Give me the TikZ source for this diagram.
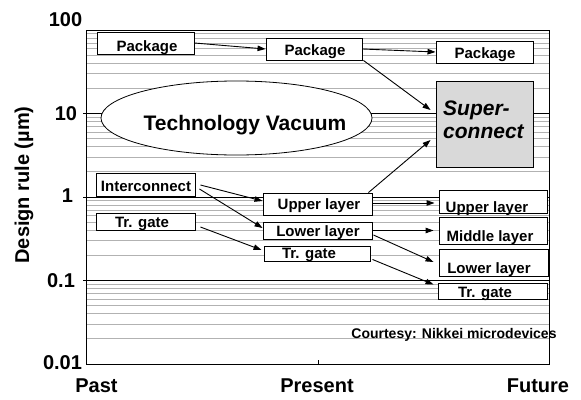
\documentclass[tikz,border=0pt]{standalone}
\usepackage{fontspec}
\setmainfont{Liberation Sans}
\usetikzlibrary{arrows.meta,calc,shapes.geometric}
\definecolor{scfill}{HTML}{D9D9D9}
\begin{document}
\begin{tikzpicture}[x=1pt,y=-1pt,
  box/.style={draw=black, line width=0.9pt, fill=white, inner sep=0pt, rectangle},
  txt/.style={font=\fontsize{15}{18}\selectfont\bfseries, inner sep=0pt, anchor=base},
  ax/.style={font=\fontsize{20}{24}\selectfont\bfseries, inner sep=0pt, anchor=base},
  conn/.style={line width=0.9pt, -{Triangle[length=8pt,width=5.5pt]}},
  minor/.style={gray!60, line width=0.8pt},
  decade/.style={black, line width=0.8pt}]
\useasboundingbox (0,0) rectangle (581,399);
\fill[white] (0,0) rectangle (581,399);

% logarithmic grid: 100 at y=30, one decade = 83.5
\foreach \d in {0,1,2,3}{
  \foreach \m in {2,...,9}{
    \draw[minor] (86,{30+83.5*(\d+1-log10(\m))}) -- (549,{30+83.5*(\d+1-log10(\m))});
  }
}
\foreach \d in {1,2,3}{
  \draw[decade] (83,{30+83.5*\d}) -- (549,{30+83.5*\d});
}
\draw[line width=1pt] (86,30) rectangle (549,364);
\draw[line width=0.8pt] (318,364) -- (318,360);

% axis labels
\node[ax] at (65.5,26) {100};
\node[ax] at (66,120.5) {10};
\node[ax] at (67.5,202) {1};
\node[ax] at (61,287) {0.1};
\node[ax] at (62.5,369) {0.01};
\node[ax, rotate=90] at (29,185) {Design rule (µm)};
\node[ax] at (96.5,392) {Past};
\node[ax] at (317,392) {Present};
\node[ax] at (538,392) {Future};

% technology vacuum
\node[draw, ellipse, fill=white, line width=0.8pt, inner sep=0pt,
      minimum width=271pt, minimum height=74pt] (vac) at (236.5,118) {};
\node[font=\fontsize{21}{25}\selectfont\bfseries, inner sep=0pt, anchor=base] at (245,130.5) {Technology Vacuum};

% boxes
\node[box, minimum width=97pt, minimum height=22pt] (pk1) at (145.5,43) {};
\node[box, minimum width=96pt, minimum height=22pt] (pk2) at (314,49) {};
\node[box, minimum width=97pt, minimum height=22pt] (pk3) at (484.5,52) {};
\node[box, fill=scfill, minimum width=97pt, minimum height=86pt] (sc) at (484.5,124) {};
\node[box, minimum width=99pt, minimum height=23pt] (ic) at (145.5,184.5) {};
\node[box, minimum width=99pt, minimum height=17pt] (tg1) at (145.5,221.5) {};
\node[box, minimum width=109pt, minimum height=22pt] (ul2) at (317.5,204) {};
\node[box, minimum width=109pt, minimum height=17pt] (ll2) at (317.5,230.5) {};
\node[box, minimum width=106pt, minimum height=15pt] (tg2) at (317,253.5) {};
\node[box, minimum width=108pt, minimum height=23pt] (ul3) at (493,201.5) {};
\node[box, minimum width=108pt, minimum height=27pt] (ml3) at (493,230.5) {};
\node[box, minimum width=109pt, minimum height=27pt] (ll3) at (493.5,262.5) {};
\node[box, minimum width=109pt, minimum height=16pt] (tg3) at (492.5,291) {};

% box texts
\node[txt] at (147,51.7) {Package};
\node[txt] at (315,55) {Package};
\node[txt] at (485,58) {Package};
\node[font=\fontsize{21}{25}\selectfont\bfseries\itshape, inner sep=0pt, anchor=base west] at (443,115) {Super-};
\node[font=\fontsize{21}{25}\selectfont\bfseries\itshape, inner sep=0pt, anchor=base west] at (443,138) {connect};
\node[txt] at (146,191) {Interconnect};
\node[txt] at (142,227) {Tr. gate};
\node[txt] at (319,209) {Upper layer};
\node[txt] at (318,236) {Lower layer};
\node[txt] at (309,258) {Tr. gate};
\node[txt] at (487,212) {Upper layer};
\node[txt] at (490,241) {Middle layer};
\node[txt] at (489,273) {Lower layer};
\node[txt] at (485,297) {Tr. gate};
\node[font=\fontsize{14}{17}\selectfont\bfseries, inner sep=0pt, anchor=base] at (454,338) {Courtesy: Nikkei microdevices};

% connectors
\draw[conn] (pk1.east) -- (pk2.west);
\draw[conn] (pk2.east) -- (pk3.west);
\draw[conn] ($(pk2.south east)+(1,0)$) -- ($(sc.west)+(-5,-14)$);
\draw[conn] ($(ul2.north east)+(-4,0)$) -- ($(sc.west)+(-5,16)$);
\draw[conn] ($(ic.east)+(5,0.5)$) -- ($(ul2.west)+(0,-3)$);
\draw[conn] ($(ic.east)+(4,4.5)$) -- ($(ll2.west)+(0,-2.5)$);
\draw[conn] ($(tg1.east)+(5,5.5)$) -- ($(tg2.west)+(-2,-3.5)$);
\draw[conn] ($(ul2.east)+(0,-1)$) -- ($(ul3.west)+(-4,1.5)$);
\draw[conn] (ll2.east) -- ($(ml3.west)+(-5,0)$);
\draw[conn] ($(ll2.east)+(1,4.5)$) -- ($(ll3.west)+(-5,-0.5)$);
\draw[conn] ($(tg2.south east)+(2,-2)$) -- ($(tg3.north west)+(-4,2)$);
\end{tikzpicture}
\end{document}
